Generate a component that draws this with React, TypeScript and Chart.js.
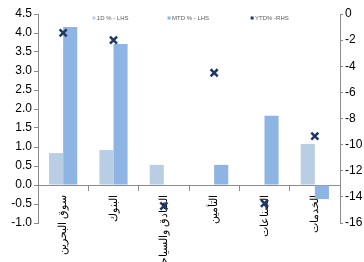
import React, { useEffect, useRef } from 'react';
import { Chart, registerables } from 'chart.js';

Chart.register(...registerables);

const categories = ['سوق البحرين', 'البنوك', 'الفنادق والسياحة', 'التأمين', 'الصناعات', 'الخدمات'];
const dayValues = [0.84, 0.92, 0.53, null, null, 1.08];
const mtdValues = [4.16, 3.71, null, 0.53, 1.82, -0.37];
const ytdValues = [-1.45, -2.0, -14.7, -4.5, -14.5, -9.35];
const seriesNames = ['1D % - LHS', 'MTD % - LHS', 'YTD% -RHS'];
const leftTicks = { min: -1, max: 4.5, step: 0.5 };
const rightTicks = { min: -16, max: 0, step: 2 };

const LIGHT = '#b9cde5';
const DARK = '#8db4e2';
const NAVY = '#1f3864';
const AXIS = '#8c8c8c';

const legendPlugin = {
  id: 'customLegend',
  afterDraw(chart: any) {
    const { ctx, chartArea } = chart;
    const fr = [0.185, 0.434, 0.709];
    const colors = [LIGHT, DARK, NAVY];
    ctx.save();
    ctx.font = "6px 'Liberation Sans', Arial, sans-serif";
    ctx.textBaseline = 'middle';
    ctx.textAlign = 'left';
    const y = chartArea.top + 4;
    seriesNames.forEach((name, i) => {
      const x = chartArea.left + fr[i] * (chartArea.right - chartArea.left);
      ctx.fillStyle = colors[i];
      ctx.fillRect(x - 1.5, y - 1.5, 3, 3);
      ctx.fillStyle = '#595959';
      ctx.fillText(name, x + 3, y);
    });
    ctx.restore();
  },
};

export default function App() {
  const ref = useRef<HTMLCanvasElement | null>(null);
  useEffect(() => {
    document.body.style.margin = '0';
    Chart.defaults.font.family = "'Liberation Sans', Arial, sans-serif";
    const chart = new Chart(ref.current as HTMLCanvasElement, {
      type: 'bar',
      data: {
        labels: categories,
        datasets: [
          { type: 'bar', label: seriesNames[0], data: dayValues, backgroundColor: LIGHT, yAxisID: 'y', order: 1, categoryPercentage: 0.56, barPercentage: 1 } as any,
          { type: 'bar', label: seriesNames[1], data: mtdValues, backgroundColor: DARK, yAxisID: 'y', order: 1, categoryPercentage: 0.56, barPercentage: 1 } as any,
          { type: 'line', label: seriesNames[2], data: ytdValues, yAxisID: 'y1', showLine: false, pointStyle: 'crossRot', pointRadius: 5, pointBorderWidth: 2.5, borderColor: NAVY, backgroundColor: NAVY, order: 0 } as any,
        ],
      },
      options: {
        animation: false,
        responsive: false,
        maintainAspectRatio: false,
        layout: { padding: { top: 14, left: 0, right: 0, bottom: 39 } },
        plugins: { legend: { display: false }, tooltip: { enabled: false } },
        scales: {
          x: {
            position: { y: 0 } as any,
            offset: true,
            grid: { display: true, drawOnChartArea: false, drawTicks: true, tickLength: 5, color: AXIS, offset: true },
            border: { display: true, color: AXIS },
            ticks: { minRotation: 90, maxRotation: 90, autoSkip: false, padding: 5, color: '#000', font: { size: 11 } },
          } as any,
          y: {
            position: 'left',
            min: leftTicks.min,
            max: leftTicks.max,
            ticks: { stepSize: leftTicks.step, padding: 2, color: '#000', font: { size: 12 }, callback: (v: any) => Number(v).toFixed(1) },
            grid: { drawOnChartArea: false, tickLength: 4, color: AXIS },
            border: { color: AXIS },
            afterFit: (s: any) => { s.width = 38; },
          } as any,
          y1: {
            position: 'right',
            min: rightTicks.min,
            max: rightTicks.max,
            ticks: { stepSize: rightTicks.step, padding: 2, color: '#000', font: { size: 12 } },
            grid: { drawOnChartArea: false, tickLength: 3, color: AXIS },
            border: { color: AXIS },
            afterFit: (s: any) => { s.width = 24; },
          } as any,
        },
      },
      plugins: [legendPlugin],
    });
    return () => chart.destroy();
  }, []);
  return (
    <div style={{ width: 364, height: 262, background: '#fff' }}>
      <canvas ref={ref} width={364} height={262} style={{ width: 364, height: 262, display: 'block' }} />
    </div>
  );
}
